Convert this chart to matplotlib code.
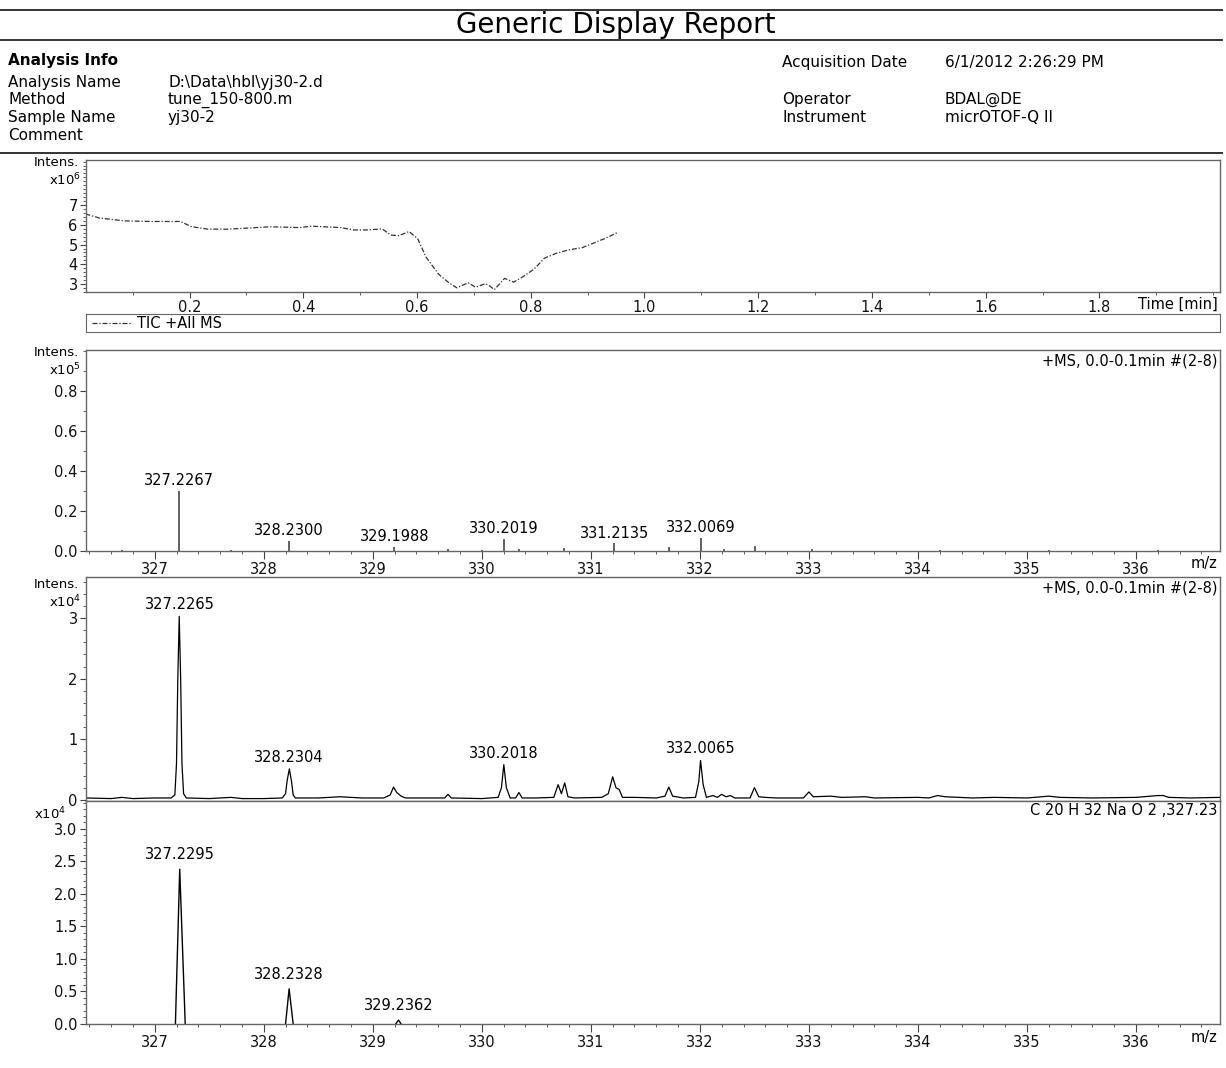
import matplotlib
matplotlib.use("Agg")
import matplotlib.pyplot as plt
from matplotlib.lines import Line2D
from matplotlib.ticker import MultipleLocator, FixedLocator, FormatStrFormatter

plt.rcParams['font.family'] = ['DejaVu Sans']

W, H = 1226, 1068

# header
info_left = [("Analysis Name", "D:\\Data\\hbl\\yj30-2.d"),
             ("Method", "tune_150-800.m"),
             ("Sample Name", "yj30-2"),
             ("Comment", "")]
info_right = [("Acquisition Date", "6/1/2012 2:26:29 PM"),
              ("Operator", "BDAL@DE"),
              ("Instrument", "micrOTOF-Q II")]

# TIC +All MS (x10^6)
tic_time = [0.017, 0.042, 0.086, 0.13, 0.184, 0.203, 0.232, 0.268, 0.342, 0.393,
            0.415, 0.466, 0.488, 0.51, 0.539, 0.554, 0.568, 0.586, 0.601, 0.616,
            0.638, 0.656, 0.67, 0.69, 0.703, 0.72, 0.728, 0.736, 0.754, 0.77,
            0.784, 0.806, 0.824, 0.846, 0.868, 0.89, 0.912, 0.933, 0.952]
tic_int = [6.55, 6.34, 6.2, 6.17, 6.17, 5.91, 5.78, 5.78, 5.9, 5.86,
           5.93, 5.86, 5.74, 5.74, 5.79, 5.48, 5.45, 5.66, 5.31, 4.36,
           3.5, 3.07, 2.81, 3.07, 2.84, 3.02, 2.9, 2.72, 3.29, 3.1,
           3.33, 3.76, 4.31, 4.57, 4.74, 4.84, 5.09, 5.34, 5.6]

# line spectrum (x10^5)
stick_mz = [326.7, 327.2267, 327.7, 328.2300, 329.1988, 329.69, 330.0, 330.2019, 330.34,
            330.75, 331.2135, 331.72, 332.0069, 332.22, 332.51, 333.03, 334.2, 335.2, 336.2]
stick_int = [0.003, 0.30, 0.003, 0.052, 0.022, 0.008, 0.003, 0.059, 0.012,
             0.017, 0.038, 0.021, 0.064, 0.009, 0.024, 0.009, 0.004, 0.004, 0.004]
stick_lab_mz = [327.2267, 328.2300, 329.1988, 330.2019, 331.2135, 332.0069]
stick_lab_int = [0.30, 0.052, 0.022, 0.059, 0.038, 0.064]

# profile spectrum (x10^4)
prof_mz = [326.37, 326.6, 326.7, 326.8, 327.0, 327.15, 327.185, 327.2, 327.212, 327.225,
           327.238, 327.25, 327.265, 327.29, 327.5, 327.6, 327.7, 327.8, 328.0, 328.17,
           328.2, 328.215, 328.235, 328.255, 328.27, 328.29, 328.5, 328.7, 328.9, 329.1,
           329.16, 329.19, 329.22, 329.26, 329.3, 329.5, 329.66, 329.69, 329.72, 330.0,
           330.15, 330.18, 330.202, 330.225, 330.26, 330.31, 330.34, 330.37, 330.5, 330.66,
           330.7, 330.73, 330.76, 330.79, 330.85, 331.1, 331.16, 331.2, 331.23, 331.26,
           331.29, 331.4, 331.6, 331.68, 331.715, 331.75, 331.85, 331.96, 331.99, 332.006,
           332.03, 332.06, 332.12, 332.16, 332.2, 332.24, 332.28, 332.32, 332.46, 332.5,
           332.54, 332.6, 332.7, 332.95, 333.0, 333.04, 333.2, 333.3, 333.52, 333.6,
           334.0, 334.1, 334.18, 334.25, 334.5, 334.7, 335.0, 335.2, 335.3, 335.6,
           336.0, 336.2, 336.25, 336.3, 336.5, 336.77]
prof_int = [0.03, 0.02, 0.04, 0.02, 0.03, 0.03, 0.08, 0.6, 2.0, 3.03,
            2.0, 0.6, 0.1, 0.03, 0.02, 0.03, 0.04, 0.02, 0.02, 0.03,
            0.1, 0.32, 0.51, 0.3, 0.08, 0.03, 0.03, 0.05, 0.03, 0.03,
            0.08, 0.21, 0.12, 0.06, 0.03, 0.03, 0.03, 0.09, 0.03, 0.02,
            0.04, 0.2, 0.58, 0.2, 0.03, 0.03, 0.12, 0.03, 0.03, 0.04,
            0.25, 0.1, 0.28, 0.05, 0.03, 0.04, 0.1, 0.38, 0.2, 0.17,
            0.04, 0.04, 0.03, 0.06, 0.21, 0.06, 0.03, 0.04, 0.3, 0.65,
            0.25, 0.04, 0.07, 0.04, 0.09, 0.05, 0.07, 0.03, 0.03, 0.2,
            0.05, 0.04, 0.03, 0.03, 0.13, 0.05, 0.06, 0.04, 0.05, 0.03,
            0.04, 0.03, 0.07, 0.05, 0.03, 0.04, 0.03, 0.06, 0.04, 0.03,
            0.04, 0.07, 0.07, 0.04, 0.03, 0.04]
prof_lab_mz = [327.2265, 328.2304, 330.2018, 332.0065]
prof_lab_int = [3.03, 0.51, 0.58, 0.65]

# simulated pattern C20H32NaO2 (x10^4)
sim_mz = [327.19, 327.2295, 327.28, float('nan'), 328.20, 328.2328, 328.27, float('nan'),
          329.21, 329.2362, 329.26]
sim_int = [0.0, 2.38, 0.0, float('nan'), 0.0, 0.54, 0.0, float('nan'), 0.0, 0.06, 0.0]
sim_lab_mz = [327.2295, 328.2328, 329.2362]
sim_lab_int = [2.38, 0.54, 0.06]

MZ_LIM = (326.37, 336.77)
FS = 10.5


def rect(l, t, r, b):
    return [l / W, 1 - b / H, (r - l) / W, (b - t) / H]


def fy(y):
    return 1 - y / H


def style(ax):
    for s in ax.spines.values():
        s.set_color('#666666')
        s.set_linewidth(1.0)
    ax.tick_params(which='both', direction='out', colors='#444444',
                   labelcolor='#111111', labelsize=FS, pad=2)
    ax.tick_params(which='major', length=4)
    ax.tick_params(which='minor', length=2.5)


def mz_axis(ax):
    ax.set_xlim(*MZ_LIM)
    ax.xaxis.set_major_locator(MultipleLocator(1))
    ax.xaxis.set_minor_locator(MultipleLocator(0.2))
    ax.xaxis.set_major_formatter(FormatStrFormatter('%d'))
    ax.tick_params(axis='x', which='major', length=6)
    ax.text(0.998, -0.025, 'm/z', transform=ax.transAxes, ha='right', va='top', fontsize=FS)


def intens(y1, y2, exp, x2=81):
    if y1 is not None:
        fig.text(79 / W, fy(y1), 'Intens.', ha='right', va='center', fontsize=9.5)
    fig.text(x2 / W, fy(y2), 'x10$^{%d}$' % exp, ha='right', va='center', fontsize=9.5)


fig = plt.figure(figsize=(W / 100, H / 100), dpi=100)

# ---- header
for yy in (10, 40, 153):
    fig.add_artist(Line2D([0, 1222 / W], [fy(yy)] * 2, transform=fig.transFigure,
                          color='#333333', lw=1.4))
fig.text(616 / W, fy(25), 'Generic Display Report', ha='center', va='center', fontsize=20)
fig.text(8 / W, fy(61), 'Analysis Info', ha='left', va='center', fontsize=11, weight='bold')
for i, (k, v) in enumerate(info_left):
    yy = fy(82 + i * 17.7)
    fig.text(8 / W, yy, k, ha='left', va='center', fontsize=11)
    fig.text(168 / W, yy, v, ha='left', va='center', fontsize=11)
for (k, v), yy in zip(info_right, (63, 99, 117)):
    fig.text(782 / W, fy(yy), k, ha='left', va='center', fontsize=11)
    fig.text(945 / W, fy(yy), v, ha='left', va='center', fontsize=11)

# ---- TIC
ax1 = fig.add_axes(rect(86, 160, 1220, 292))
style(ax1)
ax1.plot(tic_time, tic_int, color='#333333', lw=0.9, ls=(0, (4, 1.5, 1, 1.5)))
ax1.set_xlim(0.018, 2.012)
ax1.set_ylim(2.6, 9.28)
ax1.xaxis.set_major_locator(FixedLocator([0.2, 0.4, 0.6, 0.8, 1.0, 1.2, 1.4, 1.6, 1.8]))
ax1.xaxis.set_minor_locator(MultipleLocator(0.1))
ax1.xaxis.set_major_formatter(FormatStrFormatter('%.1f'))
ax1.yaxis.set_major_locator(FixedLocator([3, 4, 5, 6, 7]))
ax1.yaxis.set_minor_locator(MultipleLocator(0.2))
ax1.text(0.998, -0.035, 'Time [min]', transform=ax1.transAxes, ha='right', va='top', fontsize=FS)
intens(163, 180, 6)

axl = fig.add_axes(rect(86, 314, 1220, 332))
for s in axl.spines.values():
    s.set_color('#666666')
axl.set_xticks([])
axl.set_yticks([])
axl.set_xlim(0, 1)
axl.set_ylim(0, 1)
axl.plot([0.005, 0.04], [0.5, 0.5], color='#333333', lw=0.9, ls=(0, (4, 1.5, 1, 1.5)))
axl.text(0.045, 0.5, 'TIC +All MS', ha='left', va='center', fontsize=FS)

# ---- line spectrum
ax2 = fig.add_axes(rect(86, 350, 1220, 551))
style(ax2)
ax2.vlines(stick_mz, 0, stick_int, color='#555555', lw=1.3)
mz_axis(ax2)
ax2.set_ylim(0, 1.005)
ax2.yaxis.set_major_locator(FixedLocator([0.0, 0.2, 0.4, 0.6, 0.8]))
ax2.yaxis.set_minor_locator(MultipleLocator(0.1))
ax2.yaxis.set_major_formatter(FormatStrFormatter('%.1f'))
for m, h in zip(stick_lab_mz, stick_lab_int):
    ax2.annotate('%.4f' % m, (m, h), xytext=(0, 2), textcoords='offset points',
                 ha='center', va='bottom', fontsize=FS)
ax2.text(0.998, 0.985, '+MS, 0.0-0.1min #(2-8)', transform=ax2.transAxes,
         ha='right', va='top', fontsize=FS)
intens(353, 370, 5)

# ---- profile spectrum
ax3 = fig.add_axes(rect(86, 577, 1220, 801))
style(ax3)
ax3.plot(prof_mz, prof_int, color='black', lw=0.9)
ax3.set_xlim(*MZ_LIM)
ax3.set_ylim(-0.02, 3.68)
ax3.set_xticks([])
ax3.yaxis.set_major_locator(FixedLocator([0, 1, 2, 3]))
ax3.yaxis.set_minor_locator(MultipleLocator(0.2))
ax3.yaxis.set_major_formatter(FormatStrFormatter('%d'))
for m, h in zip(prof_lab_mz, prof_lab_int):
    ax3.annotate('%.4f' % m, (m, h), xytext=(0, 3), textcoords='offset points',
                 ha='center', va='bottom', fontsize=FS)
ax3.text(0.998, 0.985, '+MS, 0.0-0.1min #(2-8)', transform=ax3.transAxes,
         ha='right', va='top', fontsize=FS)
intens(585, 602, 4)

# ---- simulated pattern
ax4 = fig.add_axes(rect(86, 801, 1220, 1024))
style(ax4)
ax4.plot(sim_mz, sim_int, color='black', lw=1.0)
mz_axis(ax4)
ax4.set_ylim(0, 3.43)
ax4.yaxis.set_major_locator(MultipleLocator(0.5))
ax4.yaxis.set_minor_locator(MultipleLocator(0.1))
ax4.yaxis.set_major_formatter(FormatStrFormatter('%.1f'))
for m, h in zip(sim_lab_mz, sim_lab_int):
    ax4.annotate('%.4f' % m, (m, h), xytext=(0, 5), textcoords='offset points',
                 ha='center', va='bottom', fontsize=FS)
ax4.text(0.998, 0.99, 'C 20 H 32 Na O 2 ,327.23', transform=ax4.transAxes,
         ha='right', va='top', fontsize=FS)
intens(None, 814, 4, x2=66)

fig.savefig('out.png', dpi=100)
